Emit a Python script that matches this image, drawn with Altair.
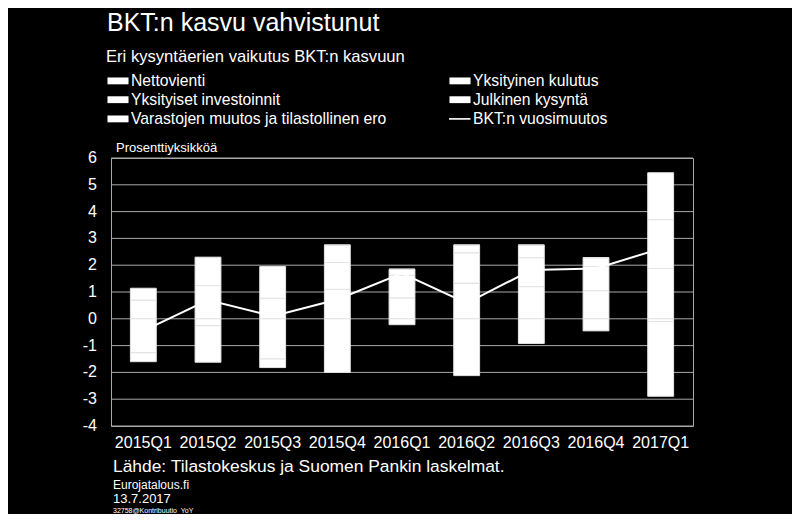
import altair as alt
import pandas as pd

quarters = ["2015Q1", "2015Q2", "2015Q3", "2015Q4", "2016Q1", "2016Q2", "2016Q3", "2016Q4", "2017Q1"]

kulutus = [0.70, 1.24, 0.77, 1.10, 0.78, 1.33, 1.20, 1.05, 1.88]
julkinen = [0.00, 0.00, 0.00, 1.00, 0.85, 1.13, 1.08, 0.90, 1.82]
investoinnit = [0.44, 1.06, 1.18, 0.65, 0.22, 0.29, 0.47, 0.33, 1.75]
nettovienti = [-1.27, -0.26, -1.50, -2.00, -0.22, -2.12, -0.92, -0.45, -0.10]
varastot = [-0.33, -1.36, -0.32, 0.00, 0.00, 0.00, 0.00, 0.00, -2.79]
bkt = [-0.45, 0.70, 0.10, 0.72, 1.70, 0.58, 1.82, 1.88, 2.62]

series_names = ["Yksityinen kulutus", "Julkinen kysyntä", "Yksityiset investoinnit",
                "Nettovienti", "Varastojen muutos ja tilastollinen ero"]
series_values = [kulutus, julkinen, investoinnit, nettovienti, varastot]

# legend fills column by column: left column first, then right column
legend_names = ["Nettovienti", "Yksityiset investoinnit", "Varastojen muutos ja tilastollinen ero",
                "Yksityinen kulutus", "Julkinen kysyntä", "BKT:n vuosimuutos"]

title_text = "BKT:n kasvu vahvistunut"
subtitle_text = "Eri kysyntäerien vaikutus BKT:n kasvuun"
unit_text = "Prosenttiyksikköä"
source_text = "Lähde: Tilastokeskus ja Suomen Pankin laskelmat."
site_text = "Eurojatalous.fi"
date_text = "13.7.2017"
code_text = "32758@Kontribuutio_YoY"
y_ticks = [-4, -3, -2, -1, 0, 1, 2, 3, 4, 5, 6]

FONT = "Liberation Sans"
GRID = "#a8a8a8"

rows = []
for si, (name, vals) in enumerate(zip(series_names, series_values)):
    for q, v in zip(quarters, vals):
        rows.append({"q": q, "series": name, "value": v, "order": si})
bars_df = pd.DataFrame(rows)
line_df = pd.DataFrame({"q": quarters, "bkt": bkt})
legend_df = pd.DataFrame({"name": legend_names})
ticks_df = pd.DataFrame({"t": y_ticks, "lab": [str(t) for t in y_ticks]})

xaxis = alt.Axis(title=None, labelAngle=0, labelFontSize=16, labelColor="white",
                 labelFont=FONT, labelPadding=8, ticks=False, domain=False, grid=False)
xscale = alt.Scale(paddingInner=0.6, paddingOuter=0.3)
yscale = alt.Scale(domain=[-4, 6], nice=False)

grid = alt.Chart(ticks_df).mark_rule(color=GRID, strokeWidth=1).encode(
    y=alt.Y("t:Q", scale=yscale, axis=None),
)
ylabels = alt.Chart(ticks_df).mark_text(
    align="right", baseline="middle", fontSize=16, color="white", font=FONT
).encode(
    y=alt.Y("t:Q", scale=yscale, axis=None),
    x=alt.value(-14),
    text="lab:N",
)

bars = alt.Chart(bars_df).mark_bar(stroke="#e4e4e4", strokeWidth=1).encode(
    x=alt.X("q:N", sort=quarters, scale=xscale, axis=xaxis),
    y=alt.Y("value:Q", scale=yscale, axis=None, stack="zero"),
    color=alt.Color("series:N", scale=alt.Scale(domain=series_names, range=["white"] * 5), legend=None),
    order=alt.Order("order:Q"),
)

line = alt.Chart(line_df).mark_line(color="white", strokeWidth=2).encode(
    x=alt.X("q:N", sort=quarters, scale=xscale, axis=xaxis),
    y=alt.Y("bkt:Q", scale=yscale, axis=None),
)

rect_path = "M-1.17,-0.38H1.17V0.38H-1.17Z"
line_path = "M-1.22,-0.09H1.17V0.09H-1.22Z"
legend_layer = alt.Chart(legend_df).mark_point(filled=True, color="white", opacity=0).encode(
    shape=alt.Shape("name:N",
                    scale=alt.Scale(domain=legend_names, range=[rect_path] * 5 + [line_path]),
                    legend=alt.Legend(title=None, orient="none", legendX=-2.5, legendY=-87,
                                      columns=2, columnPadding=61, rowPadding=1.2,
                                      symbolSize=324, symbolFillColor="white",
                                      symbolStrokeColor="white", symbolStrokeWidth=0.5,
                                      symbolOpacity=1, labelColor="white", labelFont=FONT,
                                      labelFontSize=15.7, labelOffset=3.5, labelLimit=400)),
)


def txt(s, x, y, size):
    return alt.Chart(pd.DataFrame({"t": [s]})).mark_text(
        align="left", baseline="alphabetic", fontSize=size, color="white", font=FONT
    ).encode(x=alt.value(x), y=alt.value(y), text="t:N")


texts = [
    txt(title_text, -4, -127, 25),
    txt(subtitle_text, -5, -96, 16.6),
    txt(unit_text, 5, -6, 13),
    txt(source_text, 2, 314, 17.4),
    txt(site_text, 2, 331, 12),
    txt(date_text, 2, 345, 13),
    txt(code_text, 2, 355, 7),
]

chart = alt.layer(grid, ylabels, bars, line, legend_layer, *texts).properties(
    width=582, height=268,
    background="black",
    padding={"left": 103, "top": 150, "right": 99, "bottom": 88},
    autosize=alt.AutoSizeParams(type="none"),
).configure_view(stroke=GRID, strokeWidth=1)

chart.save("out.html", embed_options={"renderer": "svg", "actions": False})
